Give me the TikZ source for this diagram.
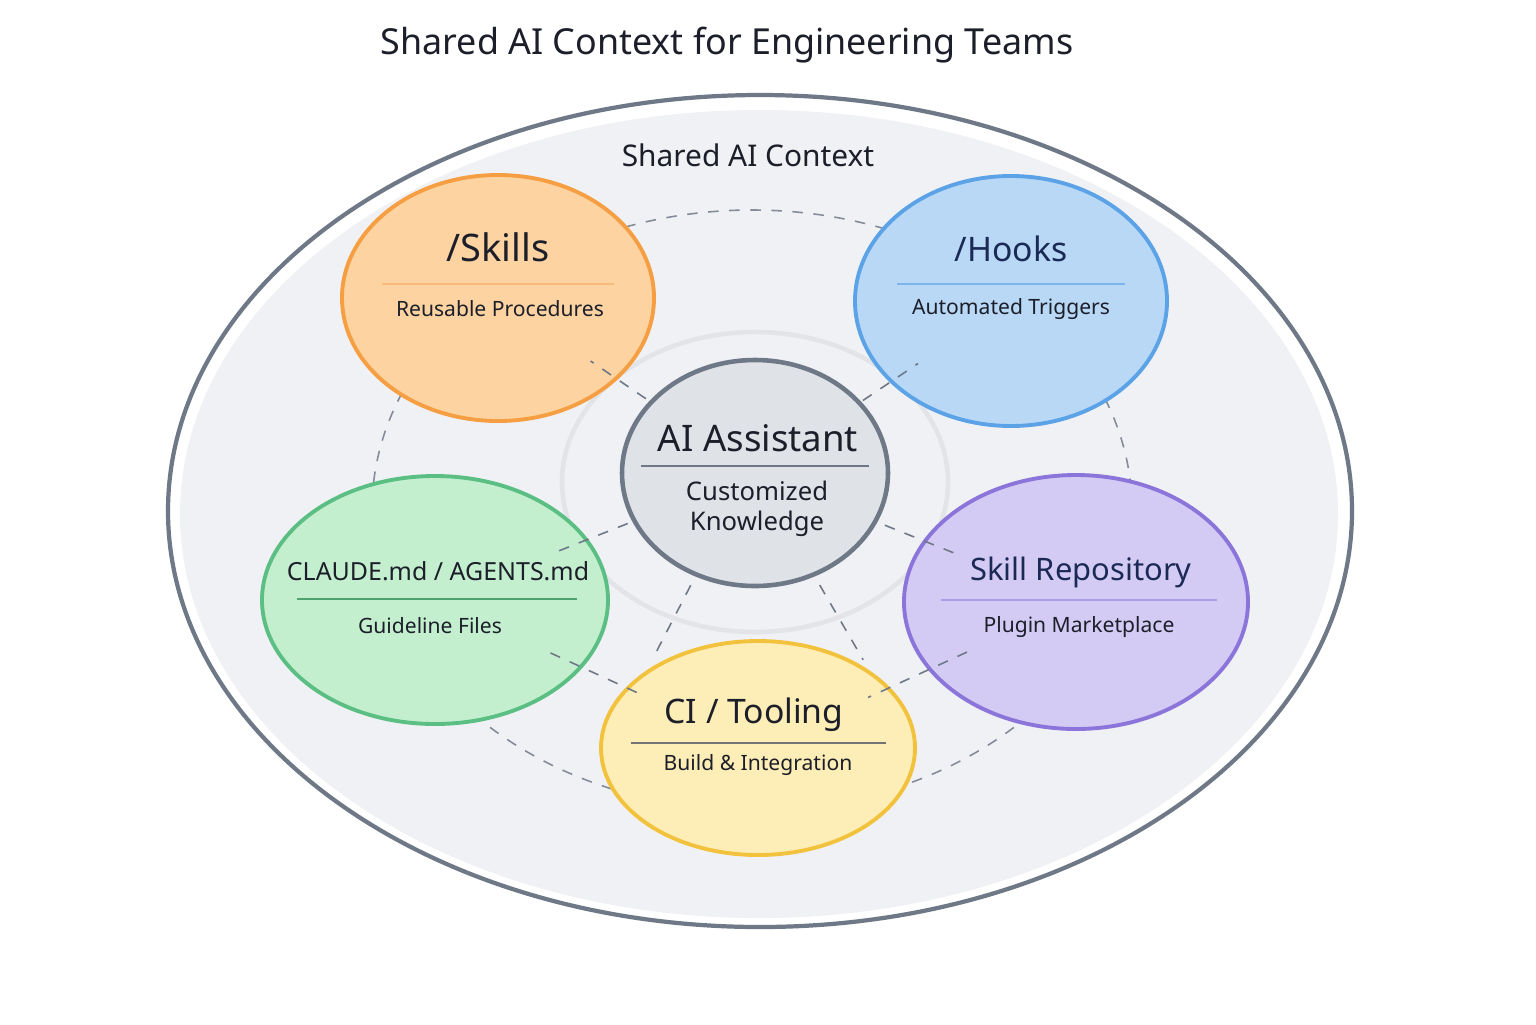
\documentclass[tikz,border=0pt]{standalone}
\usepackage{fontspec}
\setmainfont{Noto Sans}
\usepackage{tikz}
\usetikzlibrary{calc,positioning,shapes.geometric}
\definecolor{edge}{HTML}{6E7887}
\definecolor{bg}{HTML}{F0F1F4}
\definecolor{halo}{HTML}{E2E4E8}
\definecolor{ink}{HTML}{1C1F2A}
\definecolor{navy}{HTML}{1B2A55}
\definecolor{skillsfill}{HTML}{FCD3A1}
\definecolor{skillsline}{HTML}{F59E42}
\definecolor{hooksfill}{HTML}{B8D8F6}
\definecolor{hooksline}{HTML}{5BA2E6}
\definecolor{mdfill}{HTML}{C4EFCF}
\definecolor{mdline}{HTML}{5BBF84}
\definecolor{repofill}{HTML}{D3CBF3}
\definecolor{repoline}{HTML}{8B74DA}
\definecolor{cifill}{HTML}{FDEDB6}
\definecolor{ciline}{HTML}{F2C23D}
\definecolor{ctrfill}{HTML}{DFE2E7}

\begin{document}
\begin{tikzpicture}[
		blob/.style={ellipse,line width=1.1pt,inner sep=0pt},
		spoke/.style={dashed,draw=edge,line width=0.45pt},
		ttl/.style={font=\fontsize{10}{12}\selectfont,text=ink},
		sub/.style={font=\fontsize{6}{7.5}\selectfont,text=ink},
		rule/.style={line width=0.4pt}]
	\useasboundingbox (0,0) rectangle (15.36,-10.24);
	\node[font=\fontsize{10.2}{12}\selectfont,text=ink] (title) at (7.27,-0.45) {Shared AI Context for Engineering Teams};
	% shared context
	\draw[edge,line width=1.2pt,fill=white] (7.60,-5.11) ellipse (5.92 and 4.16);
	\fill[bg] (7.59,-5.14) ellipse (5.79 and 4.04);
	\node[font=\fontsize{8.5}{10}\selectfont,text=ink] (ctxlabel) at (7.48,-1.55) {Shared AI Context};
	\draw[dashed,edge!85,line width=0.45pt] (7.52,-5.10) ellipse (3.80 and 3.00);
	\draw[halo,line width=1.3pt] (7.55,-4.82) ellipse (1.93 and 1.50);
	% satellites
	\node[blob,fill=skillsfill,draw=skillsline,minimum width=3.12cm,minimum height=2.46cm] (skills) at (4.98,-2.98) {};
	\node[blob,fill=hooksfill,draw=hooksline,minimum width=3.12cm,minimum height=2.50cm] (hooks) at (10.11,-3.01) {};
	\node[blob,fill=mdfill,draw=mdline,minimum width=3.46cm,minimum height=2.48cm] (guide) at (4.35,-6.00) {};
	\node[blob,fill=repofill,draw=repoline,minimum width=3.44cm,minimum height=2.54cm] (repo) at (10.76,-6.02) {};
	\node[blob,fill=cifill,draw=ciline,minimum width=3.14cm,minimum height=2.14cm] (ci) at (7.58,-7.48) {};
	\node[blob,fill=ctrfill,draw=edge,line width=1.3pt,minimum width=2.66cm,minimum height=2.26cm] (ctr) at (7.55,-4.73) {};
	% spokes
	\draw[spoke,shorten <=1.32cm,shorten >=1.12cm] (ctr.center) -- (skills.center);
	\draw[spoke,shorten <=1.30cm,shorten >=1.12cm] (ctr.center) -- (hooks.center);
	\draw[spoke,shorten <=1.37cm,shorten >=1.33cm] (ctr.center) -- (guide.center);
	\draw[spoke,shorten <=1.40cm,shorten >=1.30cm] (ctr.center) -- (repo.center);
	\draw[spoke,shorten <=0.10cm,shorten >=0.12cm] (ctr.240) -- (ci.145);
	\draw[spoke,shorten <=0.10cm,shorten >=0.12cm] (ctr.300) -- (ci.35);
	\draw[spoke,shorten <=1.27cm,shorten >=1.25cm] (guide.center) -- (ci.center);
	\draw[spoke,shorten <=1.20cm,shorten >=1.21cm] (repo.center) -- (ci.center);
	% labels
	\node[ttl,font=\fontsize{10.8}{12}\selectfont] (skillsttl) at ($(skills)+(0,0.51)$) {/Skills};
	\draw[rule,draw=skillsline!70] ($(skills)+(-1.16,0.14)$) -- ($(skills)+(1.16,0.14)$);
	\node[sub] (skillssub) at ($(skills)+(0.02,-0.11)$) {Reusable Procedures};
	\node[ttl,text=navy,font=\fontsize{9.6}{11}\selectfont] (hooksttl) at ($(hooks)+(0,0.52)$) {/Hooks};
	\draw[rule,draw=hooksline!80] ($(hooks)+(-1.14,0.17)$) -- ($(hooks)+(1.14,0.17)$);
	\node[sub] (hookssub) at ($(hooks)+(0,-0.08)$) {Automated Triggers};
	\node[ttl,font=\fontsize{7.1}{9}\selectfont] (guidettl) at ($(guide)+(0.03,0.29)$) {CLAUDE.md / AGENTS.md};
	\draw[rule,draw=mdline!85!black] ($(guide)+(-1.38,0.01)$) -- ($(guide)+(1.42,0.01)$);
	\node[sub] (guidesub) at ($(guide)+(-0.05,-0.26)$) {Guideline Files};
	\node[ttl,text=navy,font=\fontsize{8.8}{11}\selectfont] (repottl) at ($(repo)+(0.05,0.30)$) {Skill Repository};
	\draw[rule,draw=repoline!70] ($(repo)+(-1.35,0.02)$) -- ($(repo)+(1.41,0.02)$);
	\node[sub] (reposub) at ($(repo)+(0.03,-0.25)$) {Plugin Marketplace};
	\node[ttl,font=\fontsize{9.6}{11}\selectfont] (cittl) at ($(ci)+(-0.04,0.33)$) {CI / Tooling};
	\draw[rule,draw=black!55] ($(ci)+(-1.27,0.05)$) -- ($(ci)+(1.28,0.05)$);
	\node[sub] (cisub) at ($(ci)+(0,-0.17)$) {Build \& Integration};
	\node[ttl,font=\fontsize{10.4}{12}\selectfont] (ctrttl) at ($(ctr)+(0.03,0.35)$) {AI Assistant};
	\draw[rule,draw=edge] ($(ctr)+(-1.14,0.07)$) -- ($(ctr)+(1.14,0.07)$);
	\node[ttl,font=\fontsize{7.3}{8.6}\selectfont,align=center] (ctrsub) at ($(ctr)+(0.02,-0.36)$) {Customized\\Knowledge};
\end{tikzpicture}
\end{document}
